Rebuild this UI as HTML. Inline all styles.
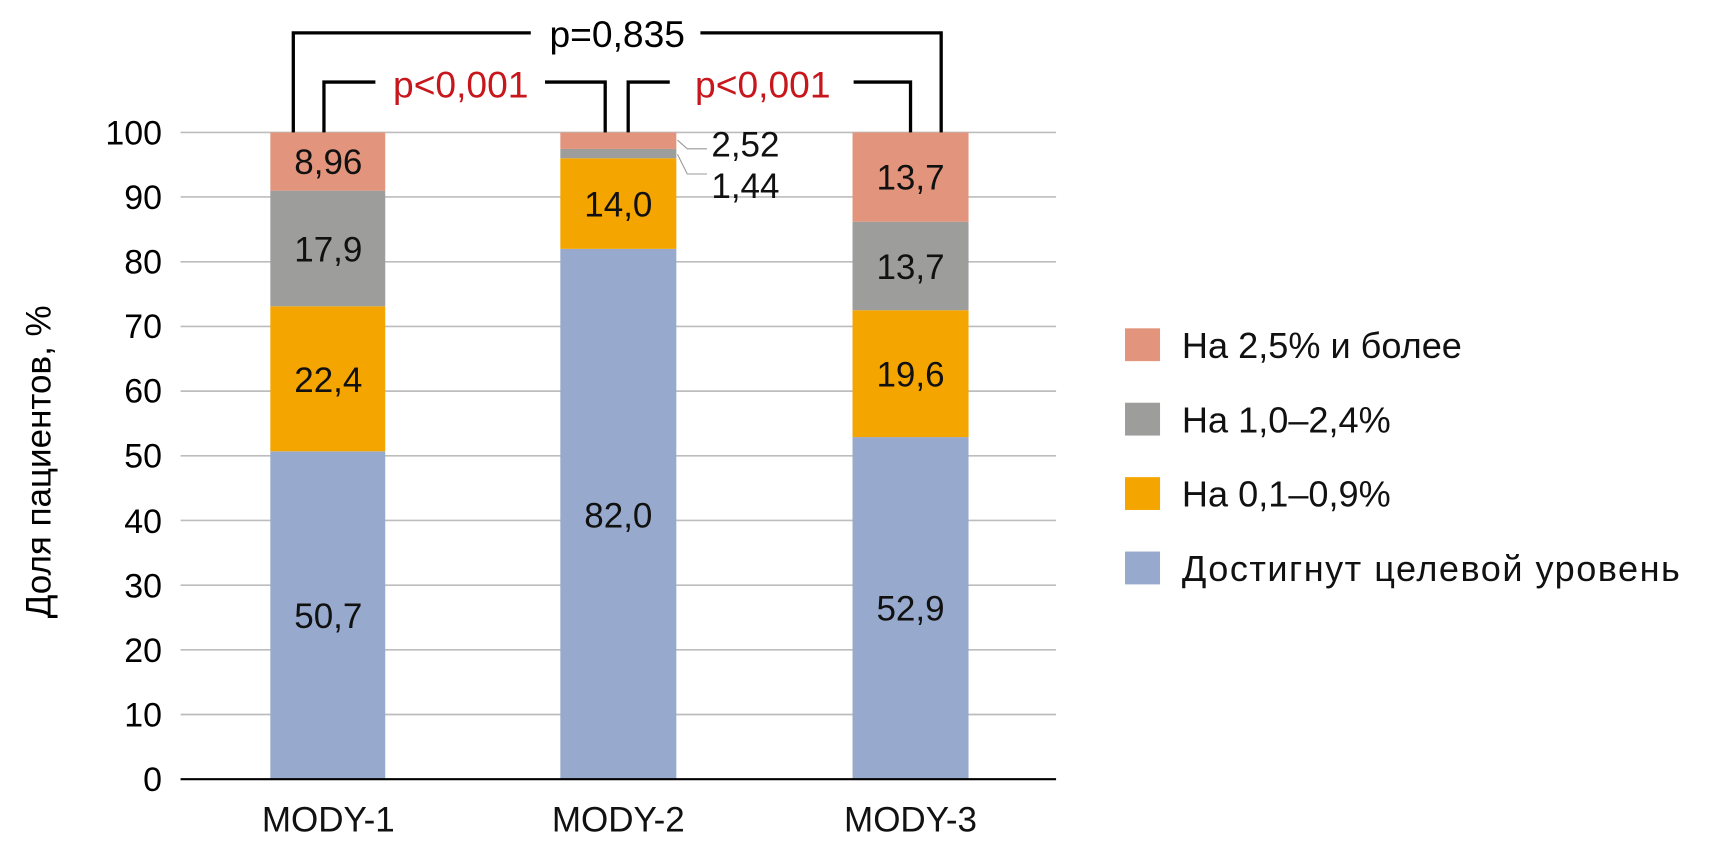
<!DOCTYPE html>
<html><head><meta charset="utf-8"><style>body{margin:0;background:#fff}svg{display:block}text{font-family:"Liberation Sans",sans-serif}</style></head><body>
<svg width="1716" height="842" viewBox="0 0 1568 769.4" xmlns="http://www.w3.org/2000/svg">
<g stroke="#bdbdbd" stroke-width="1.5">
<line x1="165" y1="121" x2="965" y2="121"/><line x1="165" y1="180" x2="965" y2="180"/><line x1="165" y1="239.2" x2="965" y2="239.2"/><line x1="165" y1="298.3" x2="965" y2="298.3"/><line x1="165" y1="357.4" x2="965" y2="357.4"/><line x1="165" y1="416.5" x2="965" y2="416.5"/><line x1="165" y1="475.6" x2="965" y2="475.6"/><line x1="165" y1="534.7" x2="965" y2="534.7"/><line x1="165" y1="593.8" x2="965" y2="593.8"/><line x1="165" y1="652.9" x2="965" y2="652.9"/>
</g>
<g font-size="31" text-anchor="end" fill="#000">
<text x="148" y="132">100</text><text x="148" y="191">90</text><text x="148" y="250">80</text><text x="148" y="309">70</text><text x="148" y="368">60</text><text x="148" y="427">50</text><text x="148" y="487">40</text><text x="148" y="546">30</text><text x="148" y="605">20</text><text x="148" y="664">10</text><text x="148" y="723">0</text>
</g>
<text transform="translate(46,422) rotate(-90)" font-size="32" text-anchor="middle">Доля пациентов, %</text>
<rect x="247" y="412.4" width="105" height="299.6" fill="#97a9cc"/>
<rect x="247" y="279.9" width="105" height="132.5" fill="#f5a500"/>
<rect x="247" y="174.2" width="105" height="105.7" fill="#9d9d9b"/>
<rect x="247" y="121" width="105" height="53.2" fill="#e2957c"/>
<rect x="512" y="227.4" width="106" height="484.6" fill="#97a9cc"/>
<rect x="512" y="144.6" width="106" height="82.8" fill="#f5a500"/>
<rect x="512" y="136.1" width="106" height="8.5" fill="#9d9d9b"/>
<rect x="512" y="121" width="106" height="15.1" fill="#e2957c"/>
<rect x="779" y="399.4" width="106" height="312.6" fill="#97a9cc"/>
<rect x="779" y="283.5" width="106" height="115.9" fill="#f5a500"/>
<rect x="779" y="202.6" width="106" height="80.9" fill="#9d9d9b"/>
<rect x="779" y="121" width="106" height="81.6" fill="#e2957c"/>
<line x1="165" y1="712" x2="965" y2="712" stroke="#000" stroke-width="2"/>
<g font-size="32" text-anchor="middle" fill="#111">
<text x="300" y="159">8,96</text><text x="300" y="239">17,9</text><text x="300" y="358">22,4</text><text x="300" y="574">50,7</text>
<text x="565" y="198">14,0</text><text x="565" y="482">82,0</text>
<text x="832" y="173">13,7</text><text x="832" y="255">13,7</text><text x="832" y="353">19,6</text><text x="832" y="567">52,9</text>
<text x="300" y="760">MODY-1</text><text x="565" y="760">MODY-2</text><text x="832" y="760">MODY-3</text>
</g>
<g font-size="32" fill="#111"><text x="650" y="143">2,52</text><text x="650" y="181">1,44</text></g>
<g stroke="#999" stroke-width="1" fill="none"><polyline points="619,128 628,136 646,136"/><polyline points="619,141 628,159 646,159"/></g>
<g stroke="#000" stroke-width="3" fill="none">
<polyline points="268,121 268,30 485,30"/><polyline points="640,30 860,30 860,121"/>
<polyline points="296,121 296,75 343,75"/><polyline points="498,75 553,75 553,121"/>
<polyline points="574,121 574,75 612,75"/><polyline points="780,75 832,75 832,121"/>
</g>
<text x="564" y="43" font-size="34" text-anchor="middle">p=0,835</text>
<g font-size="34" text-anchor="middle" fill="#c8161d"><text x="421" y="89">p&lt;0,001</text><text x="697" y="89">p&lt;0,001</text></g>
<rect x="1028" y="300" width="32" height="30" fill="#e2957c"/>
<rect x="1028" y="368" width="32" height="30" fill="#9d9d9b"/>
<rect x="1028" y="436" width="32" height="30" fill="#f5a500"/>
<rect x="1028" y="504" width="32" height="30" fill="#97a9cc"/>
<g font-size="33" fill="#111">
<text x="1080" y="327">На 2,5% и более</text>
<text x="1080" y="395">На 1,0–2,4%</text>
<text x="1080" y="463">На 0,1–0,9%</text>
<text x="1080" y="531" textLength="455">Достигнут целевой уровень</text>
</g>
</svg>
</body></html>
